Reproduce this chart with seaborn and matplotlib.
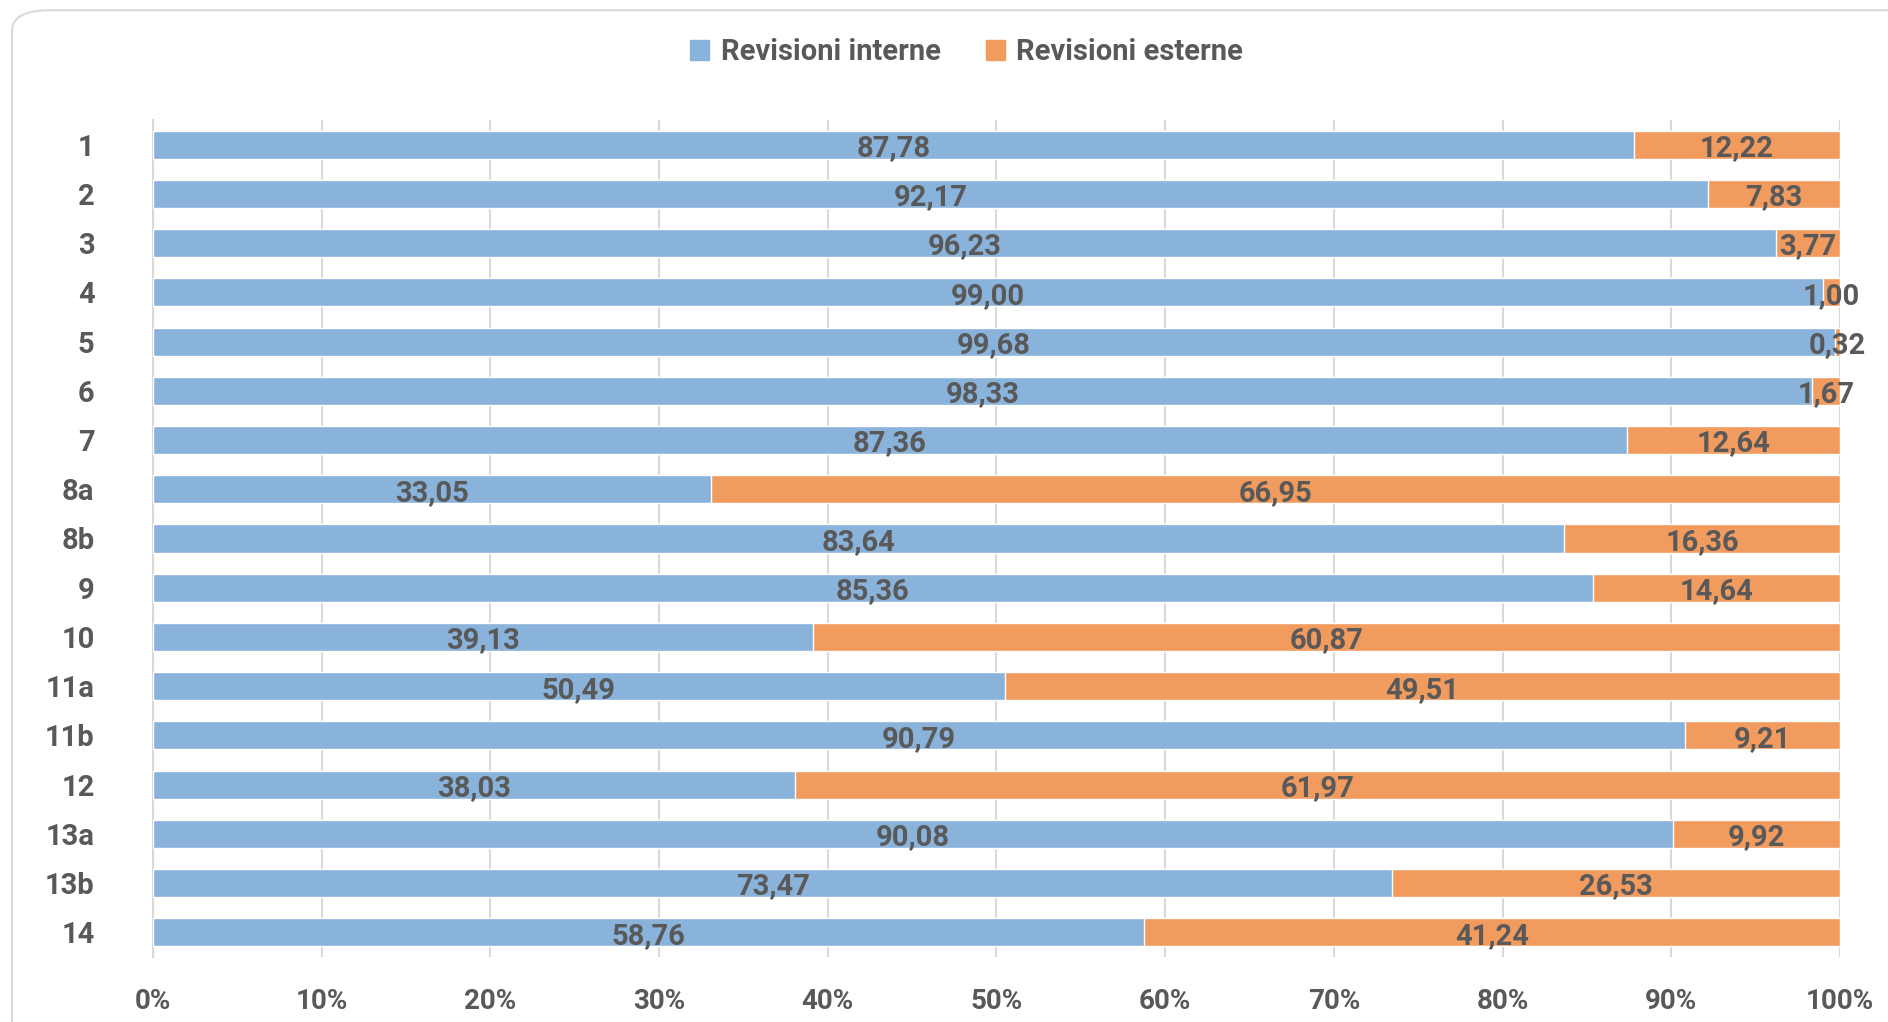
''' Revisioni interne / esterne - barre orizzontali in pila al 100% '''

import matplotlib.pyplot as plt
import pandas as pd
import seaborn as sns
from matplotlib.patches import FancyBboxPatch, Patch

categories = ["1", "2", "3", "4", "5", "6", "7", "8a", "8b", "9",
              "10", "11a", "11b", "12", "13a", "13b", "14"]
interne = [87.78, 92.17, 96.23, 99.00, 99.68, 98.33, 87.36, 33.05, 83.64,
           85.36, 39.13, 50.49, 90.79, 38.03, 90.08, 73.47, 58.76]
esterne = [12.22, 7.83, 3.77, 1.00, 0.32, 1.67, 12.64, 66.95, 16.36,
           14.64, 60.87, 49.51, 9.21, 61.97, 9.92, 26.53, 41.24]
x_ticks = [0, 10, 20, 30, 40, 50, 60, 70, 80, 90, 100]

BLUE = "#8AB3DC"
ORANGE = "#F29B5F"
TEXT = "#595959"
GRID = "#D9D9D9"


def fmt(v):
    # virgola decimale all'italiana
    return f"{v:.2f}".replace(".", ",")


def main():
    sns.set_style("white")
    plt.rcParams["font.family"] = ["Roboto", "DejaVu Sans"]

    df = pd.DataFrame({"cat": categories, "interne": interne, "esterne": esterne})
    df["totale"] = df["interne"] + df["esterne"]

    fig = plt.figure(figsize=(18.88, 10.22), dpi=100)
    ax = fig.add_axes([0.081, 0.0636, 0.8936, 0.819])

    # cornice arrotondata del grafico
    frame = FancyBboxPatch((0.0064, -0.2), 1.2, 1.19, transform=fig.transFigure,
                           boxstyle="round,pad=0,rounding_size=0.02",
                           fc="none", ec=GRID, lw=1.5, zorder=0)
    fig.patches.append(frame)

    sns.barplot(data=df, x="totale", y="cat", color=ORANGE, width=0.57,
                orient="h", ax=ax, saturation=1, zorder=3)
    sns.barplot(data=df, x="interne", y="cat", color=BLUE, width=0.57,
                orient="h", ax=ax, saturation=1, zorder=3)

    orange_bars = ax.containers[0]
    blue_bars = ax.containers[1]

    # etichette centrate sui segmenti
    dy = 0.07
    for bar, v in zip(blue_bars, interne):
        ax.text(bar.get_x() + bar.get_width() / 2, bar.get_y() + bar.get_height() / 2 + dy,
                fmt(v), ha="center", va="center", color=TEXT, fontsize=21,
                fontweight="bold", zorder=5)
    for bar, vi, ve in zip(orange_bars, interne, esterne):
        ax.text(vi + ve / 2, bar.get_y() + bar.get_height() / 2 + dy,
                fmt(ve), ha="center", va="center", color=TEXT, fontsize=21,
                fontweight="bold", zorder=5)

    ax.set_xlim(0, 100)
    ax.set_ylim(len(categories) - 0.5, -0.5)
    ax.set_xticks(x_ticks)
    ax.set_xticklabels([f"{t}%" for t in x_ticks])
    ax.set_xlabel("")
    ax.set_ylabel("")
    ax.grid(axis="x", color=GRID, lw=1.5, zorder=0)
    ax.grid(axis="y", visible=False)
    for s in ["top", "right", "bottom"]:
        ax.spines[s].set_visible(False)
    ax.spines["left"].set_color(GRID)
    ax.spines["left"].set_linewidth(1.5)
    ax.tick_params(axis="x", length=0, pad=22, labelsize=20, labelcolor=TEXT)
    ax.tick_params(axis="y", length=0, pad=42, labelsize=21, labelcolor=TEXT)
    for lab in ax.get_xticklabels() + ax.get_yticklabels():
        lab.set_fontweight("bold")

    handles = [Patch(color=BLUE, label="Revisioni interne"),
               Patch(color=ORANGE, label="Revisioni esterne")]
    fig.legend(handles=handles, loc="center", bbox_to_anchor=(0.512, 0.949), ncol=2,
               frameon=False, handlelength=0.65, handleheight=0.65, handletextpad=0.4,
               columnspacing=1.55, prop={"size": 21, "weight": "bold"},
               labelcolor=TEXT)

    fig.savefig("out.png", dpi=100)


if __name__ == "__main__":
    main()
